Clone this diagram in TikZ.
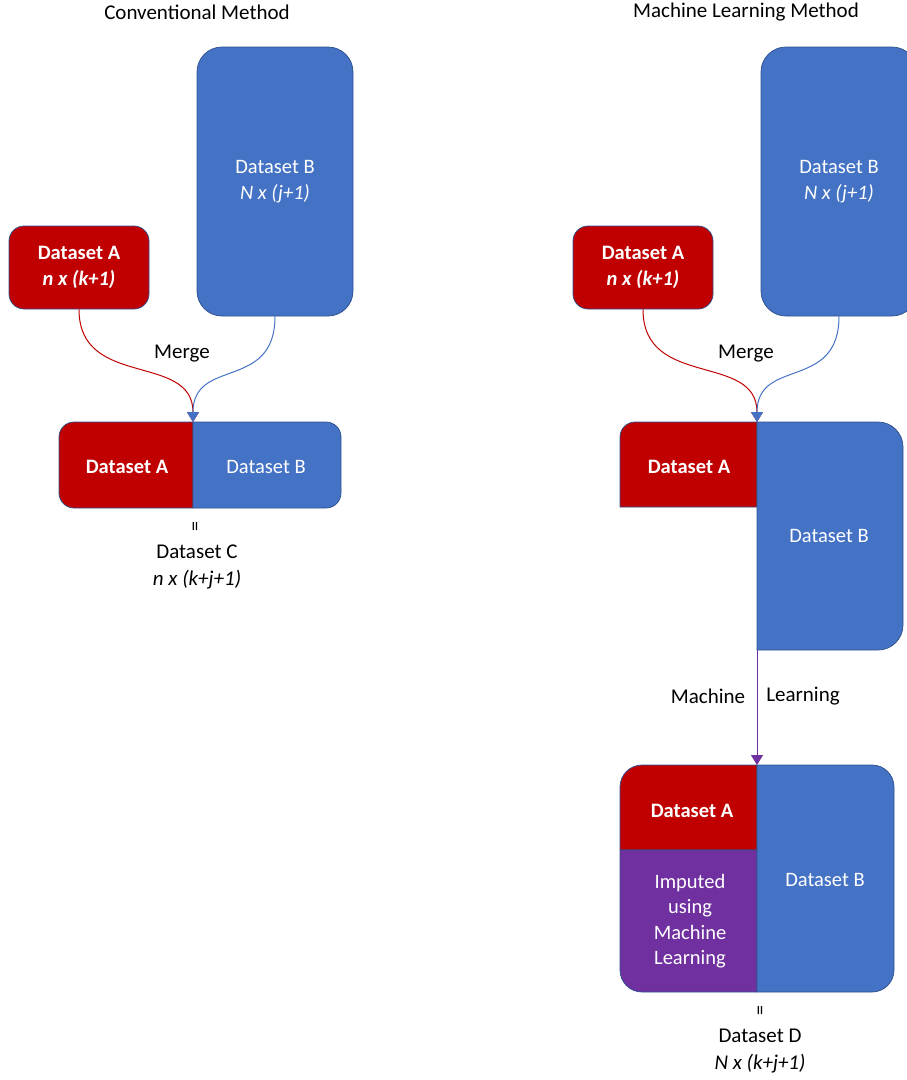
\documentclass[tikz,border=0pt]{standalone}
\usepackage{fontspec}
\setmainfont{Carlito}
\usepackage{xcolor}
\usetikzlibrary{arrows.meta}
\definecolor{dsred}{HTML}{C00000}
\definecolor{dsblue}{HTML}{4472C4}
\definecolor{dspurple}{HTML}{7030A0}
\definecolor{dsline}{HTML}{2F528F}

\begin{document}
\begin{tikzpicture}[x=1pt,y=-1pt,
  every node/.style={font=\fontsize{21}{26}\selectfont},
  wtext/.style={text=white,align=center,font=\fontsize{20.5}{25.5}\selectfont},
  wbold/.style={wtext,font=\fontsize{20.5}{25.5}\selectfont\bfseries},
  abox/.style={fill=dsred,draw=dsline,line width=0.75pt,rounded corners=15,minimum width=140,minimum height=83},
  bbox/.style={fill=dsblue,draw=dsline,line width=0.75pt,rounded corners=25,minimum width=156,minimum height=269},
  part/.style={draw=dsline,line width=0.75pt},
  eqsign/.style={rotate=90,font=\fontsize{20}{20}\selectfont},
  tip/.style={-{Triangle[width=12pt,length=10pt]},line width=1pt}]
\clip (0,0) rectangle (907,1080);

\draw (197,12) node(titleL) {Conventional Method};
\draw (275,181.5) node[bbox,wtext](dsBl) {Dataset B\\\textit{N x (j+1)}};
\draw (79,267.5) node[abox,wbold](dsAl) {Dataset A\\\textit{n x (k+1)}};
\draw (182,354) node(mergeL) {Merge};
\draw[part,fill=dsred] (193,508) -- (74,508) arc[start angle=90,end angle=180,radius=15] -- (59,437) arc[start angle=180,end angle=270,radius=15] -- (193,422) -- cycle;
\draw[part,fill=dsblue] (193,422) -- (326,422) arc[start angle=270,end angle=360,radius=15] -- (341,493) arc[start angle=0,end angle=90,radius=15] -- (193,508) -- cycle;
\draw (127,467) node[wbold](mAl) {Dataset A};
\draw (266,467) node[wtext](mBl) {Dataset B};
\coordinate (joinL) at (193,422);
\draw[tip,dsred] (dsAl.south) .. controls +(0,80) and +(0,-70) .. (joinL);
\draw[tip,dsblue] (dsBl.south) .. controls +(0,75) and +(0,-65) .. (joinL);
\draw (197,527) node[eqsign](eqC) {=};
\draw (197,566.5) node[align=center,font=\fontsize{21}{27}\selectfont](dsC) {Dataset C\\\textit{n x (k+j+1)}};

\draw (746,12) node(titleR) {Machine Learning Method};
\draw (839,181.5) node[bbox,wtext](dsBr) {Dataset B\\\textit{N x (j+1)}};
\draw (643,267.5) node[abox,wbold](dsAr) {Dataset A\\\textit{n x (k+1)}};
\draw (746,354) node(mergeR) {Merge};
\draw[part,fill=dsred] (757,507) -- (620,507) -- (620,437) arc[start angle=180,end angle=270,radius=15] -- (757,422) -- cycle;
\draw[part,fill=dsblue] (757,422) -- (878,422) arc[start angle=270,end angle=360,radius=25] -- (903,625) arc[start angle=0,end angle=90,radius=25] -- (757,650) -- cycle;
\draw (689,467) node[wbold](mAr) {Dataset A};
\draw (829,536) node[wtext](mBr) {Dataset B};
\coordinate (joinR) at (757,422);
\draw[tip,dsred] (dsAr.south) .. controls +(0,80) and +(0,-70) .. (joinR);
\draw[tip,dsblue] (dsBr.south) .. controls +(0,75) and +(0,-65) .. (joinR);

\coordinate (mlBot) at (757,650);
\coordinate (finTop) at (757,765);
\draw[tip,dspurple] (mlBot) -- (finTop);
\draw (708,696) node(mlA) {Machine};
\draw (803,696) node(mlB) {Learning};

\draw[part,fill=dsred] (757,850) -- (620,850) -- (620,787) arc[start angle=180,end angle=270,radius=22] -- (757,765) -- cycle;
\draw[part,fill=dspurple] (757,850) -- (620,850) -- (620,970) arc[start angle=180,end angle=90,radius=22] -- (757,992) -- cycle;
\draw[part,fill=dsblue] (757,765) -- (872,765) arc[start angle=270,end angle=360,radius=22] -- (894,970) arc[start angle=0,end angle=90,radius=22] -- (757,992) -- cycle;
\draw (692,811) node[wbold](fA) {Dataset A};
\draw (690,921) node[wtext](fImp) {Imputed\\using\\Machine\\Learning};
\draw (825,880) node[wtext](fB) {Dataset B};
\draw (762,1011) node[eqsign](eqD) {=};
\draw (760,1051.5) node[align=center,font=\fontsize{21}{27}\selectfont](dsD) {Dataset D\\\textit{N x (k+j+1)}};
\end{tikzpicture}
\end{document}
